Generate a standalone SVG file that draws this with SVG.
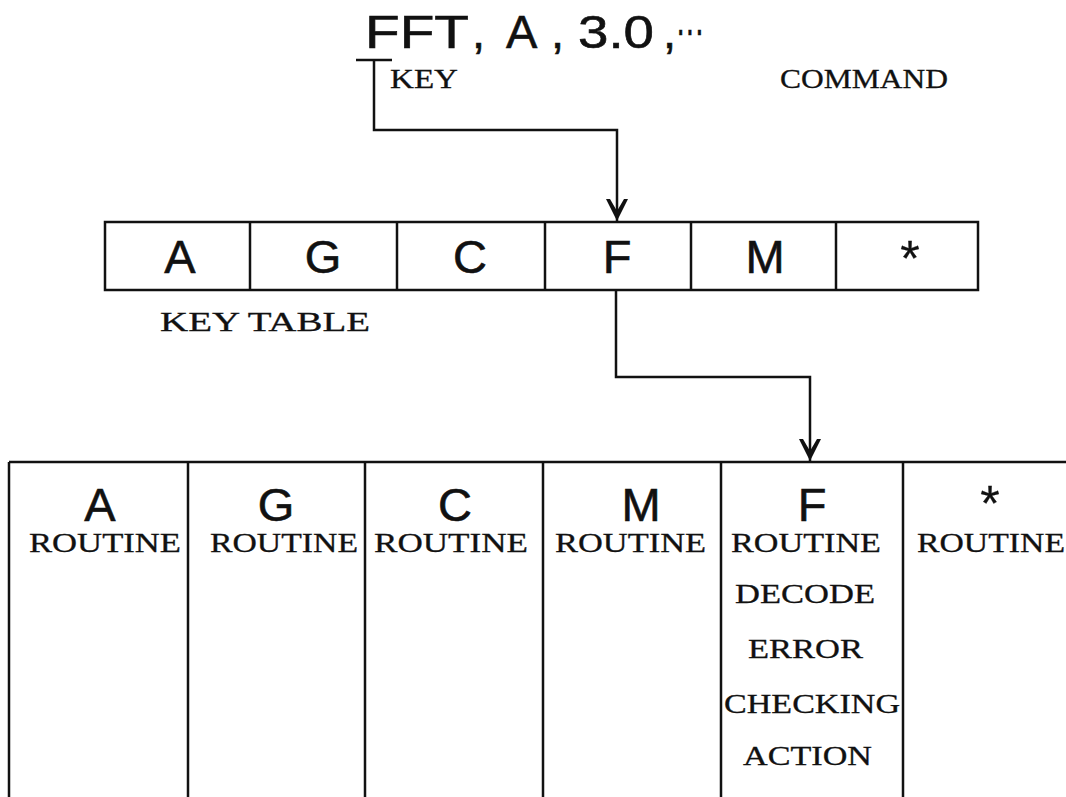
<svg xmlns="http://www.w3.org/2000/svg" width="1066" height="797" viewBox="0 0 1066 797">
<style>
.sans{font-family:"Liberation Sans",Arial,sans-serif;fill:#111;stroke:#111;stroke-width:0.6}
.big{font-size:47px}
.serif{font-family:"Liberation Serif","Times New Roman",serif;font-size:27px;fill:#111;stroke:#111;stroke-width:0.3}
.ln{fill:none;stroke:#111;stroke-width:2.5}
.box{fill:none;stroke:#111;stroke-width:2.5}
</style>
<defs>
<marker id="arr" markerUnits="userSpaceOnUse" markerWidth="30" markerHeight="30" refX="24" refY="12" orient="auto" viewBox="0 0 30 24">
<path d="M24,12 L2,1 L2,5 L14,12 L2,19 L2,23 Z" fill="#111"/>
</marker>
</defs>
<rect width="1066" height="797" fill="#fff"/>

<g id="command">
<text class="sans big" y="48"><tspan x="365" textLength="104" lengthAdjust="spacingAndGlyphs">FFT</tspan><tspan x="472">,</tspan><tspan x="506">A</tspan><tspan x="551">,</tspan><tspan x="578" textLength="76" lengthAdjust="spacingAndGlyphs">3.0</tspan><tspan x="663">,</tspan><tspan x="676" y="45" textLength="28" lengthAdjust="spacingAndGlyphs">···</tspan></text>
<text class="serif" x="390" y="88" textLength="68" lengthAdjust="spacingAndGlyphs">KEY</text>
<text class="serif" x="780" y="88" textLength="168" lengthAdjust="spacingAndGlyphs">COMMAND</text>
</g>

<g id="key-table">
<rect class="box" x="105" y="222" width="873" height="68"/>
<line class="box" x1="250" y1="222" x2="250" y2="290"/>
<line class="box" x1="397" y1="222" x2="397" y2="290"/>
<line class="box" x1="545" y1="222" x2="545" y2="290"/>
<line class="box" x1="691" y1="222" x2="691" y2="290"/>
<line class="box" x1="836" y1="222" x2="836" y2="290"/>
<g class="sans big" text-anchor="middle">
<text x="180" y="273">A</text>
<text x="323" y="273">G</text>
<text x="470" y="273">C</text>
<text x="617" y="273">F</text>
<text x="765" y="273">M</text>
<text x="910" y="276" style="stroke-width:0.3;font-size:50px">*</text>
</g>
<text class="serif" x="160" y="331" textLength="210" lengthAdjust="spacingAndGlyphs">KEY TABLE</text>
</g>

<g id="routines">
<line class="box" x1="9" y1="462" x2="1066" y2="462"/>
<line class="box" x1="9" y1="462" x2="9" y2="797"/>
<line class="box" x1="188" y1="462" x2="188" y2="797"/>
<line class="box" x1="365" y1="462" x2="365" y2="797"/>
<line class="box" x1="543" y1="462" x2="543" y2="797"/>
<line class="box" x1="721" y1="462" x2="721" y2="797"/>
<line class="box" x1="903" y1="462" x2="903" y2="797"/>
<g class="sans big" text-anchor="middle">
<text x="100" y="521">A</text>
<text x="276" y="521">G</text>
<text x="455" y="521">C</text>
<text x="641" y="521">M</text>
<text x="812" y="521">F</text>
<text x="990" y="521" style="stroke-width:0.3;font-size:50px">*</text>
</g>
<g class="serif">
<text x="29" y="552" textLength="152" lengthAdjust="spacingAndGlyphs">ROUTINE</text>
<text x="210" y="552" textLength="148" lengthAdjust="spacingAndGlyphs">ROUTINE</text>
<text x="374" y="552" textLength="154" lengthAdjust="spacingAndGlyphs">ROUTINE</text>
<text x="555" y="552" textLength="151" lengthAdjust="spacingAndGlyphs">ROUTINE</text>
<text x="731" y="552" textLength="150" lengthAdjust="spacingAndGlyphs">ROUTINE</text>
<text x="917" y="552" textLength="148" lengthAdjust="spacingAndGlyphs">ROUTINE</text>
<text x="735" y="603" textLength="140" lengthAdjust="spacingAndGlyphs">DECODE</text>
<text x="748" y="658" textLength="115" lengthAdjust="spacingAndGlyphs">ERROR</text>
<text x="724" y="713" textLength="176" lengthAdjust="spacingAndGlyphs">CHECKING</text>
<text x="743" y="765" textLength="129" lengthAdjust="spacingAndGlyphs">ACTION</text>
</g>
</g>

<g id="connectors">
<line class="ln" x1="356" y1="60" x2="392" y2="60"/>
<path class="ln" d="M374,60 V130 H617 V221" marker-end="url(#arr)"/>
<path class="ln" d="M616,290 V377 H810 V461" marker-end="url(#arr)"/>
</g>
</svg>
